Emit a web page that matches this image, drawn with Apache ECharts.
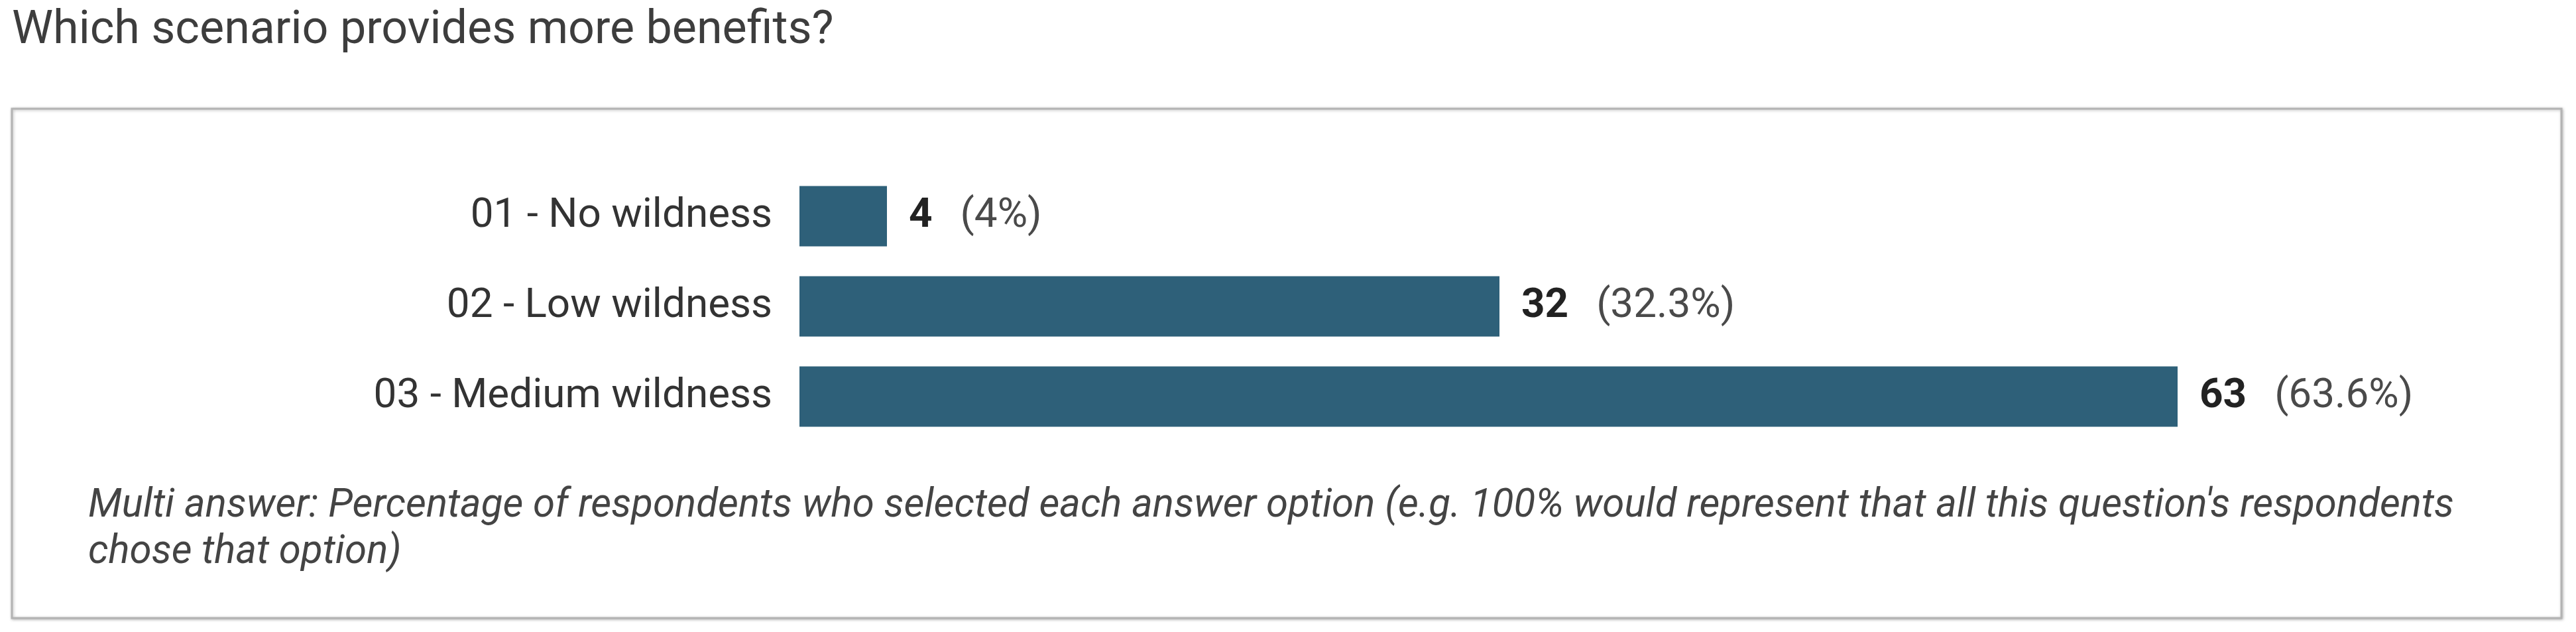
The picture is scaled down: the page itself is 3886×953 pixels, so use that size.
<!DOCTYPE html>
<html>
<head>
<meta charset="utf-8">
<style>
  html, body { margin: 0; padding: 0; background: #ffffff; }
  #chart { width: 3886px; height: 953px; }
</style>
<script src="https://cdn.jsdelivr.net/npm/echarts@6/dist/echarts.min.js"></script>
</head>
<body>
<div id="chart"></div>
<script>
const titleText = 'Which scenario provides more benefits?';
const categories = ['01 - No wildness', '02 - Low wildness', '03 - Medium wildness'];
const counts = [4, 32, 63];
const percents = ['4%', '32.3%', '63.6%'];
const footnoteLines = [
  "Multi answer: Percentage of respondents who selected each answer option (e.g. 100% would represent that all this question's respondents",
  'chose that option)'
];

const chart = echarts.init(document.getElementById('chart'), null, { renderer: 'canvas' });

const option = {
  backgroundColor: '#ffffff',
  animation: false,
  graphic: [
    {
      type: 'rect',
      z: -10,
      shape: { x: 18, y: 164, width: 3846, height: 768 },
      style: {
        fill: '#ffffff',
        stroke: '#b3b3b3',
        lineWidth: 3,
        shadowBlur: 4,
        shadowColor: 'rgba(0,0,0,0.25)',
        shadowOffsetX: 1,
        shadowOffsetY: 1
      }
    },
    {
      type: 'text',
      x: 18,
      y: 47,
      style: {
        text: titleText,
        font: '400 70px Roboto',
        fill: '#3d3d3d',
        verticalAlign: 'middle',
        align: 'left'
      }
    },
    {
      type: 'text',
      x: 133,
      y: 729,
      style: {
        text: footnoteLines.join('\n'),
        font: 'italic 400 60px Roboto',
        lineHeight: 70,
        fill: '#444444',
        verticalAlign: 'top',
        align: 'left'
      }
    }
  ],
  grid: {
    left: 1206,
    top: 258,
    width: 2640,
    height: 408,
    containLabel: false
  },
  xAxis: {
    type: 'value',
    min: 0,
    max: 80,
    show: false
  },
  yAxis: {
    type: 'category',
    inverse: true,
    data: categories,
    axisLine: { show: false },
    axisTick: { show: false },
    splitLine: { show: false },
    axisLabel: {
      margin: 41,
      fontSize: 62,
      fontFamily: 'Roboto',
      color: '#333333'
    }
  },
  series: [
    {
      type: 'bar',
      data: counts,
      barWidth: 91,
      itemStyle: { color: '#2e6079' },
      label: {
        show: true,
        position: 'right',
        distance: 33,
        formatter: function (p) {
          return '{b|' + p.value + '}{p|(' + percents[p.dataIndex] + ')}';
        },
        rich: {
          b: { fontSize: 62, fontWeight: 'bold', fontFamily: 'Roboto', color: '#222222' },
          p: { fontSize: 62, fontFamily: 'Roboto', color: '#4a4a4a', padding: [0, 0, 0, 42] }
        }
      }
    }
  ]
};

chart.setOption(option);
</script>
</body>
</html>
